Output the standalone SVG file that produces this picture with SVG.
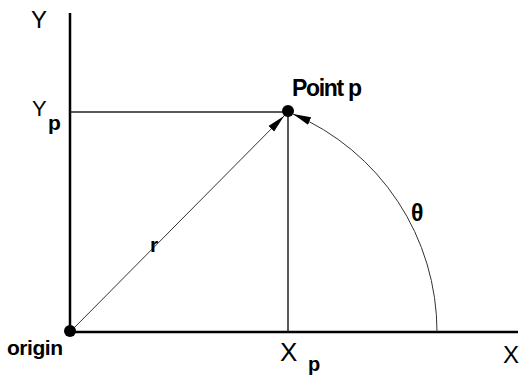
<svg xmlns="http://www.w3.org/2000/svg" width="522" height="376" viewBox="0 0 522 376">
<style>
.lbl{font-family:"Liberation Sans",Arial,sans-serif;fill:#000}
.axis{stroke:#000;stroke-width:2.5;fill:none}
.thin{stroke:#222;stroke-width:1.5;fill:none}
.ray{stroke:#333;stroke-width:1;fill:none}
</style>
<defs>
<marker id="ah" viewBox="0 0 18 10" refX="18" refY="5" markerWidth="18" markerHeight="10" markerUnits="userSpaceOnUse" orient="auto">
<path d="M0,1 L18,5 L0,9 Z" fill="#000"/>
</marker>
</defs>
<rect width="522" height="376" fill="#fff"/>
<g id="connectors">
<line class="axis" x1="70" y1="13" x2="70" y2="332"/>
<line class="axis" x1="70" y1="332" x2="518" y2="332"/>
<line class="thin" x1="70" y1="112" x2="288" y2="112"/>
<line class="thin" x1="288" y1="112" x2="288" y2="332"/>
<line class="ray" x1="70" y1="332" x2="284" y2="116" marker-end="url(#ah)"/>
<path class="ray" d="M437,332 A237,237 0 0 0 293,114" marker-end="url(#ah)"/>
</g>
<g id="origin">
<circle cx="70" cy="331" r="6" fill="#000"/>
<text class="lbl" x="7" y="355" font-size="21" font-weight="bold" textLength="56">origin</text>
</g>
<g id="point-p">
<circle cx="288" cy="111" r="6" fill="#000"/>
<text class="lbl" x="292" y="96" font-size="23" font-weight="bold" textLength="70">Point p</text>
</g>
<g id="labels">
<text class="lbl" x="31" y="28" font-size="24">Y</text>
<text class="lbl" x="32" y="116" font-size="22">Y</text>
<text class="lbl" x="48" y="130" font-size="21" font-weight="bold">p</text>
<text class="lbl" x="280" y="361" font-size="26">X</text>
<text class="lbl" x="308" y="371" font-size="20" font-weight="bold">p</text>
<text class="lbl" x="503" y="363" font-size="24">X</text>
<text class="lbl" x="150" y="252" font-size="21" font-weight="bold">r</text>
<text class="lbl" x="411" y="221" font-size="23" font-weight="bold">θ</text>
</g>
</svg>
